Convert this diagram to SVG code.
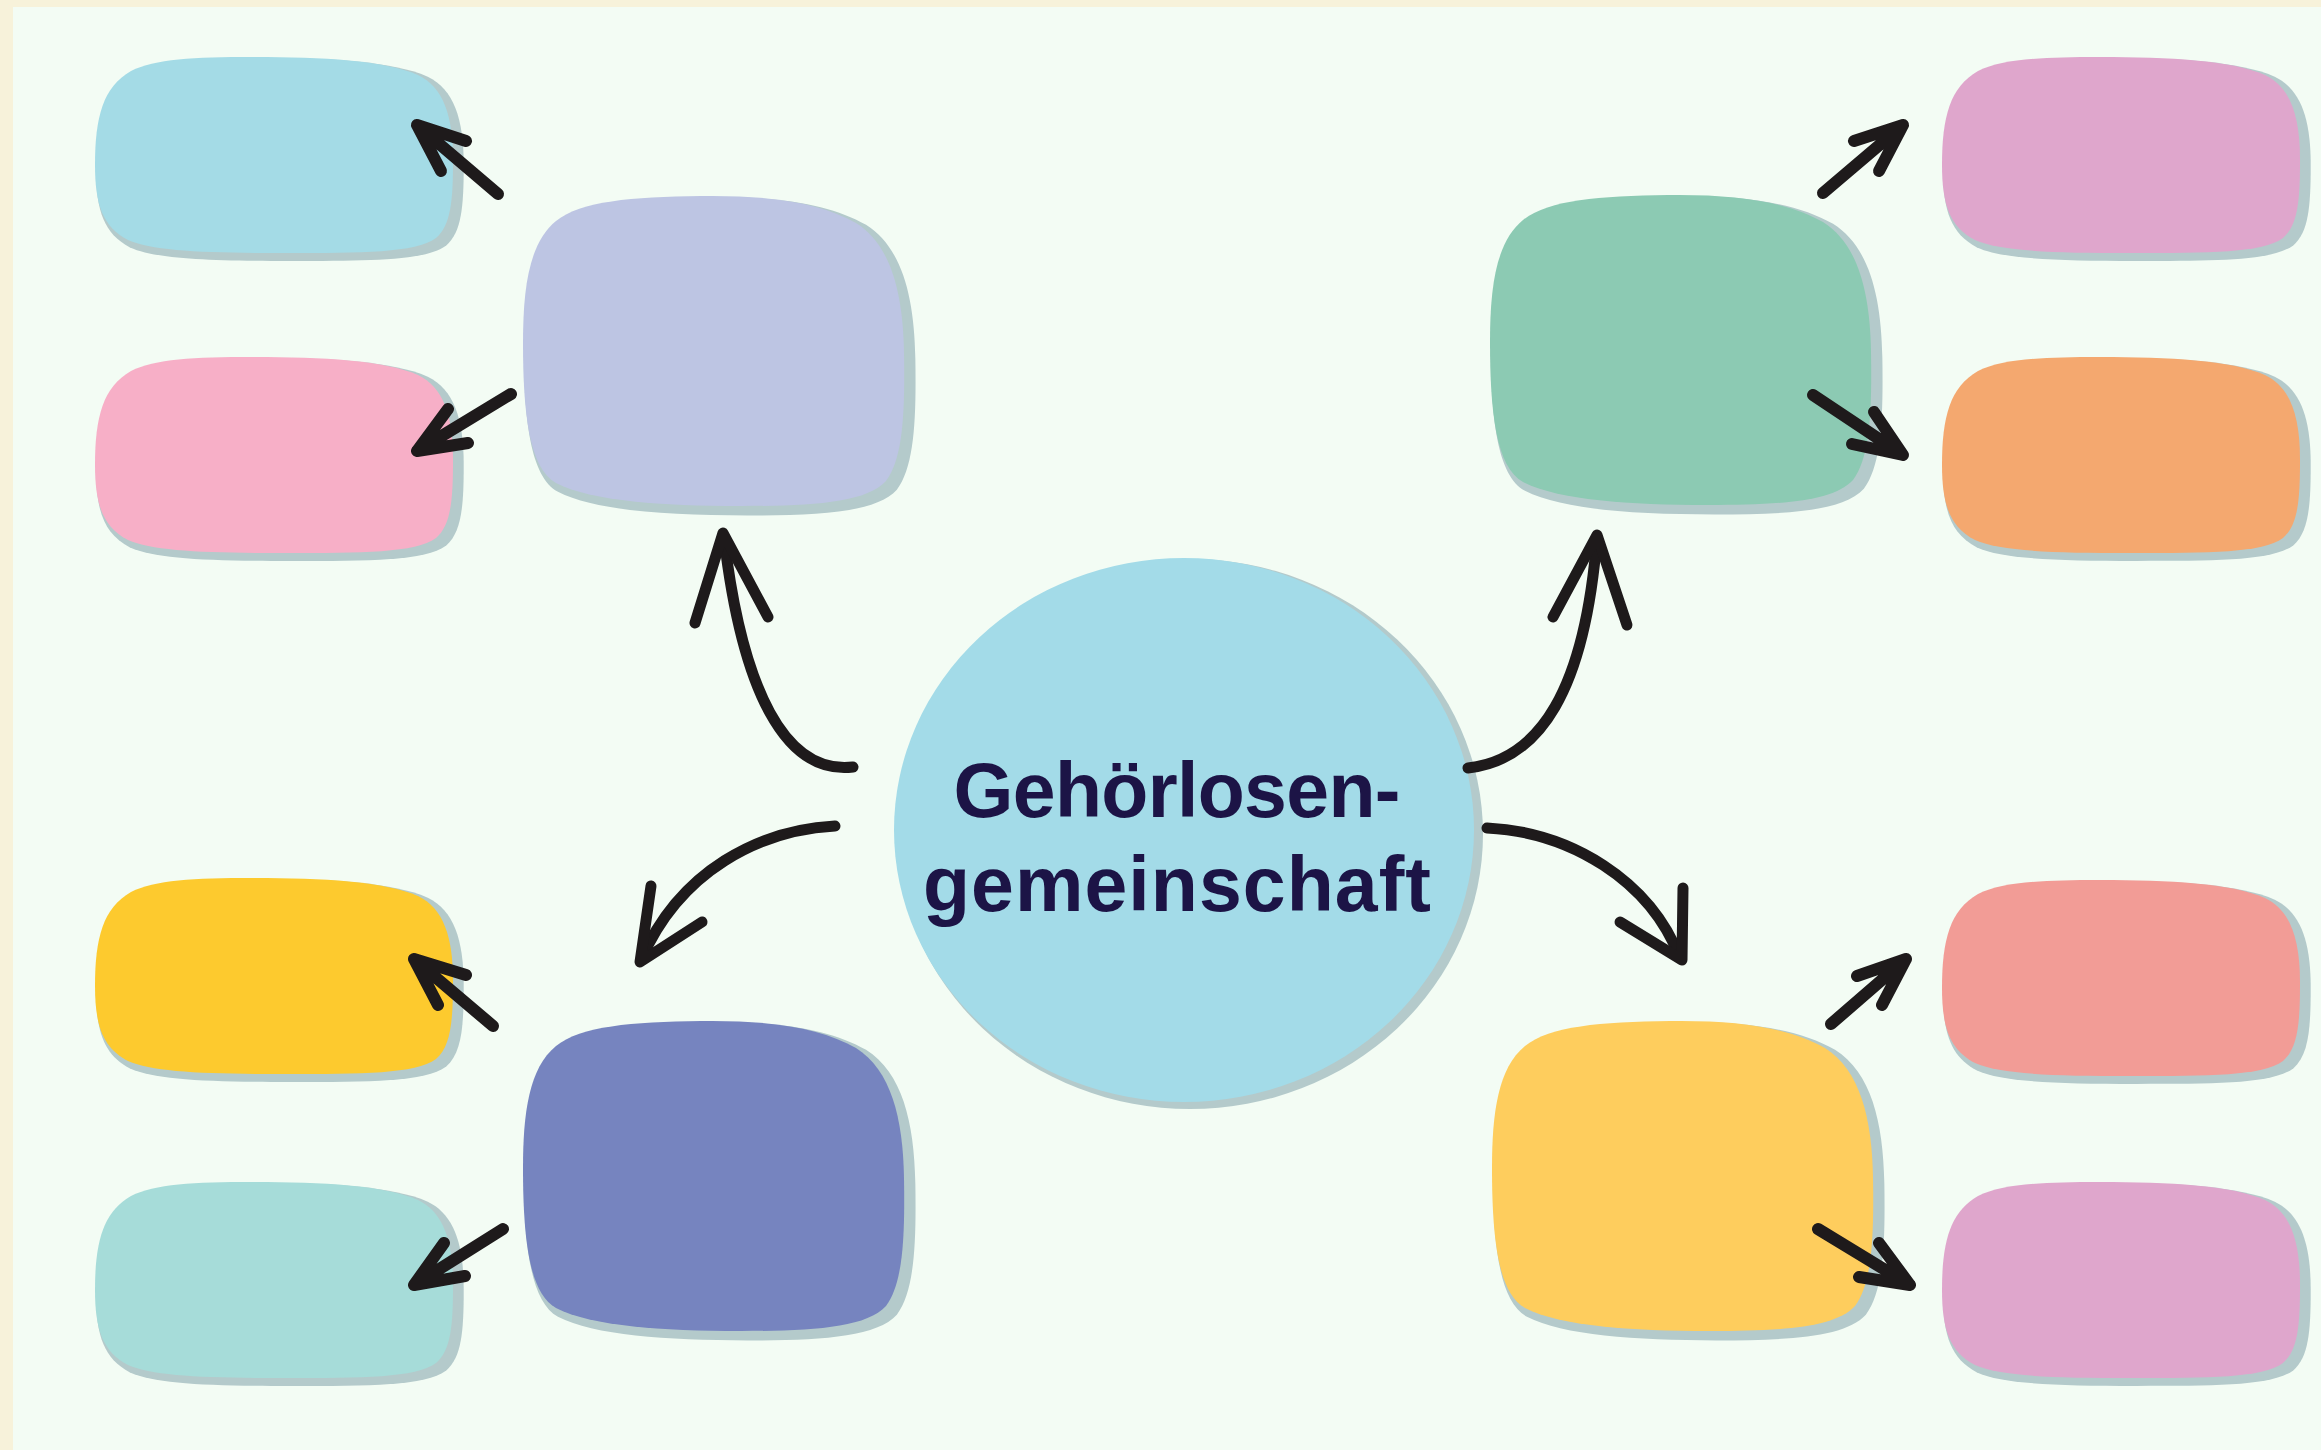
<svg xmlns="http://www.w3.org/2000/svg" width="2321" height="1450" viewBox="0 0 2321 1450">
<style>
.shadow{fill:#b4cacb}
.arr{fill:none;stroke:#1e1a1b;stroke-linecap:round;stroke-linejoin:round}
.curve{stroke-width:11}
.small{stroke-width:12}
.title{font-family:"Liberation Sans",Arial,sans-serif;font-weight:700;font-size:77px;fill:#1c1446;text-anchor:middle}
</style>
<defs>
<path id="sb" d="M 2 110 C 2 62 10 32 38 16 C 62 4 100 2 160 2 C 230 2 290 5 325 20 C 350 32 360 60 360 105 C 360 145 358 170 343 183 C 322 198 270 198 190 198 C 110 198 60 196 35 185 C 10 172 2 150 2 110 Z"/>
<path id="bb" d="M 2 150 C 2 95 8 50 35 28 C 60 8 110 4 180 3 C 250 2 300 10 335 30 C 370 52 382 100 383 160 C 384 220 382 265 365 288 C 345 310 290 313 220 313 C 140 313 70 308 35 290 C 8 275 2 220 2 150 Z"/>
<g id="sbs"><use href="#sb" class="shadow" transform="translate(1,1) scale(1.027,1.035)"/></g>
<g id="bbs"><use href="#bb" class="shadow" transform="translate(1,1) scale(1.027,1.027)"/></g>
</defs>
<rect x="0" y="0" width="2321" height="1450" fill="#f7f2da"/>
<rect x="13" y="7" width="2308" height="1443" fill="#f3fcf4"/>

<g id="n1" transform="translate(93,55)"><use href="#sbs"/><use href="#sb" fill="#a4dbe6"/></g>
<g id="n2" transform="translate(93,355)"><use href="#sbs"/><use href="#sb" fill="#f7afc7"/></g>
<g id="n3" transform="translate(521,193)"><use href="#bbs"/><use href="#bb" fill="#bdc5e3"/></g>
<g id="n4" transform="translate(1488,192)"><use href="#bbs"/><use href="#bb" fill="#8ccab3"/></g>
<g id="n5" transform="translate(1940,55)"><use href="#sbs"/><use href="#sb" fill="#dfa6cc"/></g>
<g id="n6" transform="translate(1940,355)"><use href="#sbs"/><use href="#sb" fill="#f4a86f"/></g>
<g id="n8" transform="translate(93,876)"><use href="#sbs"/><use href="#sb" fill="#fdca2e"/></g>
<g id="n9" transform="translate(93,1180)"><use href="#sbs"/><use href="#sb" fill="#a6dcd9"/></g>
<g id="n10" transform="translate(521,1018)"><use href="#bbs"/><use href="#bb" fill="#7684bf"/></g>
<g id="n11" transform="translate(1490,1018)"><use href="#bbs"/><use href="#bb" fill="#fecd5d"/></g>
<g id="n12" transform="translate(1940,878)"><use href="#sbs"/><use href="#sb" fill="#f29c96"/></g>
<g id="n13" transform="translate(1940,1180)"><use href="#sbs"/><use href="#sb" fill="#dfa6cc"/></g>

<g id="center">
<ellipse cx="1190" cy="834" rx="293" ry="275" class="shadow"/>
<ellipse cx="1184" cy="830" rx="290" ry="272" fill="#a3dbe8"/>
<text class="title"><tspan x="1177" y="817" textLength="447" lengthAdjust="spacing">Gehörlosen-</tspan><tspan x="1177" y="911" textLength="508" lengthAdjust="spacing">gemeinschaft</tspan></text>
</g>

<g id="connectors">
<path class="arr curve" d="M 853 767 C 785 775 742 690 724 537"/>
<path class="arr curve" d="M 695 623 L 723 533 L 768 617"/>
<path class="arr curve" d="M 1468 768 C 1540 760 1585 690 1597 537"/>
<path class="arr curve" d="M 1553 617 L 1597 535 L 1627 625"/>
<path class="arr curve" d="M 835 826 C 760 830 680 870 641 960"/>
<path class="arr curve" d="M 651 886 L 640 962 L 702 922"/>
<path class="arr curve" d="M 1487 828 C 1570 832 1650 880 1680 958"/>
<path class="arr curve" d="M 1683 888 L 1682 960 L 1620 922"/>

<path class="arr small" d="M 498 194 L 417 125 M 466 141 L 417 125 L 441 171"/>
<path class="arr small" d="M 511 394 L 417 451 M 468 443 L 417 451 L 448 409"/>
<path class="arr small" d="M 1823 193 L 1903 125 M 1879 171 L 1903 125 L 1854 141"/>
<path class="arr small" d="M 1813 395 L 1903 455 M 1852 444 L 1903 455 L 1874 412"/>
<path class="arr small" d="M 493 1026 L 414 959 M 466 975 L 414 959 L 438 1005"/>
<path class="arr small" d="M 503 1229 L 414 1285 M 465 1276 L 414 1285 L 444 1243"/>
<path class="arr small" d="M 1831 1024 L 1906 959 M 1882 1005 L 1906 959 L 1857 976"/>
<path class="arr small" d="M 1818 1229 L 1910 1285 M 1859 1277 L 1910 1285 L 1879 1243"/>
</g>
</svg>
